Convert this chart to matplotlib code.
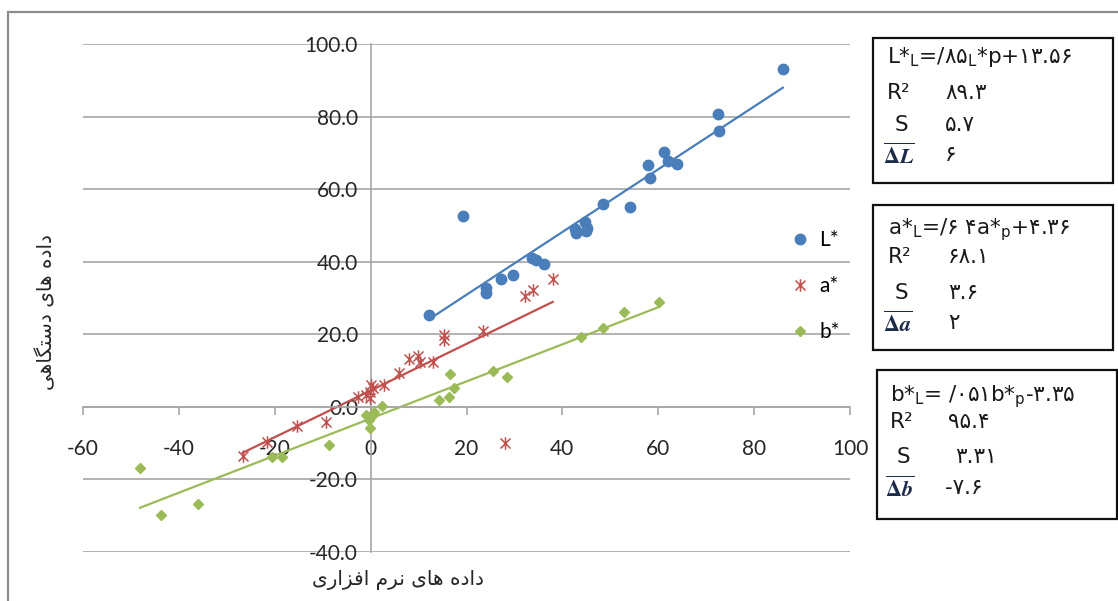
import numpy as np
import matplotlib
matplotlib.use("Agg")
import matplotlib.pyplot as plt
from matplotlib.path import Path
from matplotlib.patches import Rectangle
from matplotlib.ticker import FormatStrFormatter

plt.rcParams['axes.unicode_minus'] = False
plt.rcParams['font.family'] = ['Lato', 'DejaVu Sans']

# ---------------- data ----------------
L_x = [12.2, 19.2, 24.0, 24.0, 27.2, 29.8, 33.7, 34.5, 36.1, 42.6, 42.9, 44.8,
       45.0, 45.1, 48.4, 54.2, 57.8, 58.3, 61.2, 62.1, 64.0, 72.4, 72.7, 86.0]
L_y = [25.2, 52.5, 32.8, 31.5, 35.1, 36.4, 41.1, 40.6, 39.3, 49.1, 48.0, 51.0,
       48.5, 49.4, 55.8, 55.2, 66.6, 63.2, 70.3, 67.8, 66.9, 80.6, 76.0, 93.1]

a_x = [-26.7, -21.7, -15.3, -9.4, -2.6, -0.9, -0.1, 0.1, -0.1, 0.5, 2.8, 6.0,
       8.0, 9.9, 10.2, 13.0, 15.4, 15.4, 23.4, 28.1, 32.1, 33.8, 38.0]
a_y = [-13.5, -9.6, -5.2, -4.1, 2.8, 3.3, 4.2, 6.1, 2.4, 5.2, 6.1, 9.3,
       13.2, 13.9, 12.5, 12.5, 19.9, 18.5, 20.8, -10.0, 30.5, 32.2, 35.3]

b_x = [-48.1, -43.75, -36.1, -20.5, -18.5, -8.7, -0.9, -0.4, -0.1, 0.6, 0.1,
       2.4, 14.2, 16.3, 16.6, 17.3, 25.5, 28.4, 43.9, 48.4, 52.9, 60.1]
b_y = [-16.8, -29.9, -26.8, -13.7, -13.7, -10.5, -2.2, -3.6, -5.9, -1.3, -2.7,
       0.1, 1.9, 2.7, 9.1, 5.2, 9.8, 8.1, 19.2, 21.7, 26.2, 28.8]

series_names = ['L*', 'a*', 'b*']
x_ticks = [-60, -40, -20, 0, 20, 40, 60, 80, 100]
y_ticks = [-40, -20, 0, 20, 40, 60, 80, 100]

y_label_fa = 'داده های دستگاهی'
x_label_fa = 'داده های نرم افزاری'

box1 = [r'L*$_\mathregular{L}$=/۸۵$_\mathregular{L}$*p+۱۳.۵۶', 'R²', 'S', r'$\overline{\mathbf{\Delta}\mathbfit{L}}$',
        '۸۹.۳', '۵.۷', '۶']
box2 = [r'a*$_\mathregular{L}$=/۶ ۴a*$_\mathregular{p}$+۴.۳۶', 'R²', 'S', r'$\overline{\mathbf{\Delta}\mathbfit{a}}$',
        '۶۸.۱', '۳.۶', '۲']
box3 = [r'b*$_\mathregular{L}$= /۰۵۱b*$_\mathregular{p}$-۳.۳۵', 'R²', 'S', r'$\overline{\mathbf{\Delta}\mathbfit{b}}$',
        '۹۵.۴', '۳.۳۱', '-۷.۶']

# ---------------- simple Persian shaping ----------------
FORMS = {
    'ا': ('\uFE8D', '\uFE8E', None, None),
    'د': ('\uFEA9', '\uFEAA', None, None),
    'ر': ('\uFEAD', '\uFEAE', None, None),
    'ز': ('\uFEAF', '\uFEB0', None, None),
    'ه': ('\uFEE9', '\uFEEA', '\uFEEB', '\uFEEC'),
    'س': ('\uFEB1', '\uFEB2', '\uFEB3', '\uFEB4'),
    'ت': ('\uFE95', '\uFE96', '\uFE97', '\uFE98'),
    'ن': ('\uFEE5', '\uFEE6', '\uFEE7', '\uFEE8'),
    'م': ('\uFEE1', '\uFEE2', '\uFEE3', '\uFEE4'),
    'ف': ('\uFED1', '\uFED2', '\uFED3', '\uFED4'),
    'ی': ('\uFEEF', '\uFEF0', '\uFEF3', '\uFEF4'),
    'گ': ('\uFB92', '\uFB93', '\uFB94', '\uFB95'),
}


def shape(text):
    out = []
    for i, c in enumerate(text):
        if c not in FORMS:
            out.append(c)
            continue
        iso, fin, ini, med = FORMS[c]
        prev = text[i - 1] if i > 0 else ' '
        nxt = text[i + 1] if i < len(text) - 1 else ' '
        jp = prev in FORMS and FORMS[prev][2] is not None
        jn = ini is not None and nxt in FORMS
        if jp and jn:
            out.append(med)
        elif jp:
            out.append(fin)
        elif jn:
            out.append(ini)
        else:
            out.append(iso)
    return ''.join(out)[::-1]


# ---------------- figure ----------------
W, H = 1118, 601
fig = plt.figure(figsize=(W / 100, H / 100), dpi=100)


def fx(px):
    return px / W


def fy(py):
    return 1 - py / H


GRID = '#a6a6a6'
ax = fig.add_axes([fx(83), fy(552), fx(850) - fx(83), fy(44) - fy(552)])
ax.set_xlim(-60, 100)
ax.set_ylim(-40, 100)
ax.spines['left'].set_position(('data', 0))
ax.spines['bottom'].set_position(('data', 0))
for s in ['top', 'right']:
    ax.spines[s].set_visible(False)
for s in ['left', 'bottom']:
    ax.spines[s].set_color(GRID)
    ax.spines[s].set_linewidth(1.2)
ax.set_xticks(x_ticks)
ax.set_yticks(y_ticks)
ax.yaxis.set_major_formatter(FormatStrFormatter('%.1f'))
ax.yaxis.grid(True, color=GRID, lw=1.2)
ax.set_axisbelow(True)
ax.tick_params(axis='x', direction='out', length=6, width=1.2, color=GRID,
               pad=17, labelsize=15, labelcolor='#262626')
ax.tick_params(axis='y', length=0, pad=9, labelsize=15, labelcolor='#262626')

star = Path([(0, -1), (0, 1), (-0.8, -0.8), (0.8, 0.8), (-0.8, 0.8), (0.8, -0.8)],
            [Path.MOVETO, Path.LINETO, Path.MOVETO, Path.LINETO, Path.MOVETO, Path.LINETO])

C_L, C_a, C_b = '#4a7ebb', '#c0504d', '#9bbb59'
hL, = ax.plot(L_x, L_y, 'o', color=C_L, ms=7.5, ls='none', zorder=3)
ha, = ax.plot(a_x, a_y, marker=star, color=C_a, mec=C_a, mew=1.1, ms=9, ls='none', zorder=3)
hb, = ax.plot(b_x, b_y, 'D', color=C_b, ms=5.5, ls='none', zorder=3)

for xs, ys, c in [(L_x, L_y, C_L), (a_x, a_y, C_a), (b_x, b_y, C_b)]:
    coef = np.polyfit(xs, ys, 1)
    xe = np.array([min(xs), max(xs)])
    ax.plot(xe, np.polyval(coef, xe), color=c, lw=1.6, zorder=2)

ax.legend([hL, ha, hb], series_names, loc='center left',
          bbox_to_anchor=((790 - 83) / 767, (552 - 286) / 508),
          frameon=False, handlelength=1.0, handletextpad=0.4,
          labelspacing=1.25, borderpad=0, borderaxespad=0, fontsize=15)

# axis titles
fig.text(fx(46), fy(312), shape(y_label_fa), rotation=90, ha='center', va='center',
         fontsize=14.5, family='DejaVu Sans', color='#262626')
fig.text(fx(398), fy(580), shape(x_label_fa), ha='center', va='center',
         fontsize=14.5, family='DejaVu Sans', color='#262626')

# outer border
fig.patches.append(Rectangle((fx(8), fy(640)), fx(1200), fy(12) - fy(640),
                             transform=fig.transFigure, fill=False,
                             edgecolor='#8c8c8c', lw=1.6))

# text boxes
boxes = [
    (box1, (873, 38, 1113, 183), [57, 93, 125, 155], [887, 887, 895, 883], [945, 945, 945]),
    (box2, (873, 205, 1113, 350), [230, 257, 293, 323], [888, 888, 895, 883], [948, 948, 948]),
    (box3, (877, 370, 1117, 519), [397, 422, 457, 488], [890, 890, 897, 885], [948, 955, 945]),
]
for content, (x0, y0, x1, y1), rows, xs, vx in boxes:
    fig.patches.append(Rectangle((fx(x0), fy(y1)), fx(x1) - fx(x0), fy(y0) - fy(y1),
                                 transform=fig.transFigure, fill=True, facecolor='white',
                                 edgecolor='#111111', lw=1.6))
    for k in range(4):
        kw = dict(fontsize=15.5, family='DejaVu Sans', color='#1a1a1a')
        if k == 3:
            kw.update(math_fontfamily='stix', color='#1c2b4a', fontsize=16)
        fig.text(fx(xs[k]), fy(rows[k]), content[k], ha='left', va='center', **kw)
    for k in range(3):
        fig.text(fx(vx[k]), fy(rows[k + 1]), content[4 + k], ha='left', va='center',
                 fontsize=15.5, family='DejaVu Sans', color='#1a1a1a')

fig.savefig('out.png', dpi=100, facecolor='white')
